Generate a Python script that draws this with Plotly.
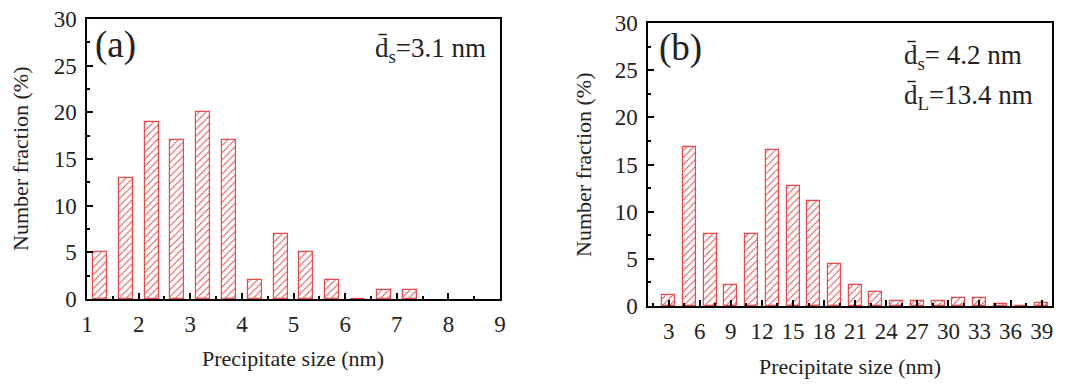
import plotly.graph_objects as go

# Panel (a)
size_a = [1.25, 1.75, 2.25, 2.75, 3.25, 3.75, 4.25, 4.75, 5.25, 5.75, 6.25, 6.75, 7.25]
frac_a = [5, 13, 19, 17, 20, 17, 2, 7, 5, 2, 0, 1, 1]
ticks_a = [1, 2, 3, 4, 5, 6, 7, 8, 9]

# Panel (b)
size_b = [3, 5, 7, 9, 11, 13, 15, 17, 19, 21, 23, 25, 27, 29, 31, 33, 35, 37, 39]
frac_b = [1.2, 16.9, 7.6, 2.2, 7.6, 16.5, 12.7, 11.1, 4.4, 2.2, 1.5, 0.5, 0.5, 0.5, 0.9, 0.9, 0.2, 0, 0.3]
ticks_b = [3, 6, 9, 12, 15, 18, 21, 24, 27, 30, 33, 36, 39]

yticks = [0, 5, 10, 15, 20, 25, 30]

RED = "#e8494b"
FONT = "Times New Roman, Liberation Serif, Tinos, DejaVu Serif, serif"

fig = go.Figure()

pattern = dict(shape="/", fgcolor=RED, bgcolor="white", size=5, solidity=0.2, fillmode="replace")

fig.add_trace(go.Bar(x=size_a, y=frac_a, width=0.27, xaxis="x", yaxis="y",
                     marker=dict(color="white", line=dict(color=RED, width=1.2), pattern=pattern),
                     showlegend=False))
fig.add_trace(go.Bar(x=size_b, y=frac_b, width=1.25, xaxis="x2", yaxis="y2",
                     marker=dict(color="white", line=dict(color=RED, width=1.2), pattern=pattern),
                     showlegend=False))

axis_common = dict(showline=True, linecolor="black", linewidth=1.5, mirror=True,
                   ticks="inside", ticklen=6, tickwidth=1.5, tickcolor="black",
                   showgrid=False, zeroline=False, ticklabelstandoff=4, automargin=False,
                   tickfont=dict(family=FONT, size=23, color="#222"))

fig.update_layout(
    width=1080, height=385,
    margin=dict(l=0, r=0, t=0, b=0, autoexpand=False),
    paper_bgcolor="white", plot_bgcolor="white",
    bargap=0,
    font=dict(family=FONT),
    xaxis=dict(domain=[87/1080, 500/1080], range=[1, 9], tickvals=ticks_a, anchor="y",
               minor=dict(dtick=0.5, ticks="inside", ticklen=3, tickcolor="black", tickwidth=1.5),
               **axis_common),
    yaxis=dict(domain=[1-299/385, 1-19/385], range=[0, 30], tickvals=yticks, anchor="x",
               minor=dict(dtick=2.5, ticks="inside", ticklen=3, tickcolor="black", tickwidth=1.5),
               **axis_common),
    xaxis2=dict(domain=[648/1080, 1052/1080], range=[1, 40], tickvals=ticks_b, anchor="y2",
                minor=dict(dtick=1.5, tick0=0, ticks="inside", ticklen=3, tickcolor="black", tickwidth=1.5),
                **axis_common),
    yaxis2=dict(domain=[1-306/385, 1-23/385], range=[0, 30], tickvals=yticks, anchor="x2",
                minor=dict(dtick=2.5, ticks="inside", ticklen=3, tickcolor="black", tickwidth=1.5),
                **axis_common),
)

def ann(x, y, text, size, xanchor="center", angle=0):
    fig.add_annotation(x=x/1080, y=1-y/385, xref="paper", yref="paper", text=text,
                       showarrow=False, xanchor=xanchor, yanchor="middle", textangle=angle,
                       font=dict(family=FONT, size=size, color="#222"))

# axis titles
ann(20, 159, "Number fraction (%)", 22, angle=-90)
ann(293, 358, "Precipitate size (nm)", 22)
ann(583, 165, "Number fraction (%)", 22, angle=-90)
ann(850, 366, "Precipitate size (nm)", 22)

# panel labels
ann(115, 45, "(a)", 37)
ann(680, 48, "(b)", 37)

# mean sizes
ann(488, 50, "d\u0304<sub>s</sub>=3.1 nm", 27, xanchor="right")
ann(902, 57, "d\u0304<sub>s</sub>= 4.2 nm", 27, xanchor="left")
ann(902, 97, "d\u0304<sub>L</sub>=13.4 nm", 27, xanchor="left")

fig.write_html("out.html", config={"displayModeBar": False},
               post_script="document.body.style.margin='0';document.body.style.overflow='hidden';")
